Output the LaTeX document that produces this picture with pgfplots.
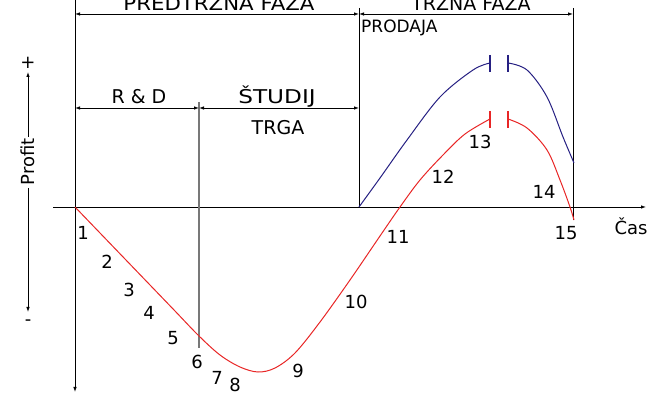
\documentclass[border=0pt]{standalone}
\usepackage{pgfplots}
\pgfplotsset{compat=1.18}
\usepackage{fontspec}
\setmainfont{DejaVu Sans}
\usetikzlibrary{arrows.meta}
\definecolor{curvered}{RGB}{232,38,38}
\definecolor{curveblue}{RGB}{38,32,130}
\definecolor{guide}{RGB}{120,120,120}
\newcommand{\bigtxt}{\fontsize{19bp}{21bp}\selectfont}
\newcommand{\numtxt}{\fontsize{18bp}{20bp}\selectfont}
\begin{document}
\begin{tikzpicture}
\path[use as bounding box] (0,0) rectangle (648bp,395bp);
\clip (0,0) rectangle (648bp,395bp);
\begin{axis}[at={(0,0)}, anchor=south west, scale only axis,
  width=648bp, height=395bp,
  xmin=0, xmax=648, ymin=-395, ymax=0,
  hide axis, clip=false]
  \tikzset{arr/.style={line width=0.8bp, {Latex[length=5bp,width=3.5bp]}-{Latex[length=5bp,width=3.5bp]}},
           ax/.style={line width=0.8bp, -{Latex[length=5bp,width=3.5bp]}}}

  % frame lines of the phases
  \draw[ax] (axis cs:75,5) -- (axis cs:75,-392);
  \draw[line width=0.8bp] (axis cs:359,-8) -- (axis cs:359,-207);
  \draw[line width=0.8bp] (axis cs:573,-8) -- (axis cs:573,-220);
  \draw[ax] (axis cs:53,-207) -- (axis cs:646,-207);
  \draw[guide, line width=1.2bp] (axis cs:199,-102) -- (axis cs:199,-348);

  % phase arrows
  \draw[arr] (axis cs:75,-14) -- (axis cs:359,-14);
  \draw[arr] (axis cs:359,-14) -- (axis cs:573,-14);
  \draw[arr] (axis cs:75,-108) -- (axis cs:199,-108);
  \draw[arr] (axis cs:199,-108) -- (axis cs:359,-108);

  % profit arrows
  \draw[ax] (axis cs:28,-137) -- (axis cs:28,-72);
  \draw[ax] (axis cs:28,-188) -- (axis cs:28,-312);

  % profit curve
  \addplot[curvered, line width=1bp, smooth, tension=0.55] coordinates {
    (75,-207) (100,-233) (125,-259) (150,-285) (175,-311) (199,-336)
    (220,-355) (240,-367) (258,-372) (275,-368) (295,-353) (320,-322)
    (350,-280) (380,-236) (400,-207) (420,-180) (443,-155) (465,-134) (490,-119)};
  \addplot[curvered, line width=1bp, smooth, tension=0.55] coordinates {
    (508,-119) (527,-128) (547,-150) (560,-180) (570,-207) (574,-220)};

  % sales curve
  \addplot[curveblue, line width=1bp, smooth, tension=0.55] coordinates {
    (359,-207) (380,-178) (407,-140) (440,-97) (473,-70) (490,-63)};
  \addplot[curveblue, line width=1bp, smooth, tension=0.55] coordinates {
    (508,-63) (527,-70) (547,-97) (563,-137) (574,-163)};

  % break marks at the peak
  \addplot[curveblue, line width=2bp] coordinates {(490,-55) (490,-72)};
  \addplot[curveblue, line width=2bp] coordinates {(508,-55) (508,-72)};
  \addplot[curvered, line width=2bp] coordinates {(490,-111) (490,-128)};
  \addplot[curvered, line width=2bp] coordinates {(508,-111) (508,-128)};

  % texts
  \node[font=\bigtxt, xscale=1.12, transform shape] at (axis cs:219,-2) {PREDTRŽNA FAZA};
  \node[font=\bigtxt] at (axis cs:471,-2) {TRŽNA FAZA};
  \node[font=\bigtxt] at (axis cs:139,-97) {R \& D};
  \node[font=\bigtxt, xscale=1.22, transform shape] at (axis cs:277,-97) {ŠTUDIJ};
  \node[font=\bigtxt] at (axis cs:278,-128) {TRGA};
  \node[font=\fontsize{17bp}{19bp}\selectfont, anchor=west, inner sep=0pt] at (axis cs:361,-28) {PRODAJA};
  \node[font=\numtxt] at (axis cs:631,-226) {Čas};
  \node[font=\numtxt, rotate=90] at (axis cs:28,-162) {Profit};
  \node[font=\numtxt] at (axis cs:28,-63) {+};
  \node[font=\numtxt] at (axis cs:28,-323) {-};

  \node[font=\numtxt] at (axis cs:83,-233) {1};
  \node[font=\numtxt] at (axis cs:107,-262) {2};
  \node[font=\numtxt] at (axis cs:129,-290) {3};
  \node[font=\numtxt] at (axis cs:149,-313) {4};
  \node[font=\numtxt] at (axis cs:173,-338) {5};
  \node[font=\numtxt] at (axis cs:197,-362) {6};
  \node[font=\numtxt] at (axis cs:217,-378) {7};
  \node[font=\numtxt] at (axis cs:235,-385) {8};
  \node[font=\numtxt] at (axis cs:298,-371) {9};
  \node[font=\numtxt] at (axis cs:356,-302) {10};
  \node[font=\numtxt] at (axis cs:398,-237) {11};
  \node[font=\numtxt] at (axis cs:443,-177) {12};
  \node[font=\numtxt] at (axis cs:480,-142) {13};
  \node[font=\numtxt] at (axis cs:544,-192) {14};
  \node[font=\numtxt] at (axis cs:566,-233) {15};
\end{axis}
\end{tikzpicture}
\end{document}
